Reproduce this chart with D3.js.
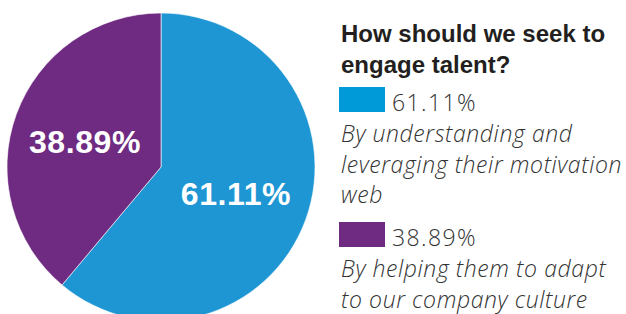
<!DOCTYPE html>
<html>
<head>
<meta charset="utf-8">
<script src="https://cdn.jsdelivr.net/npm/d3@7"></script>
<style>
  body { margin: 0; background: white; }
</style>
</head>
<body>
<div id="container"></div>
<script>
var w = 626;
var h = 314;

// data
var labels = ["By understanding and leveraging their motivation web", "By helping them to adapt to our company culture"];
var values = [61.11, 38.89];
var legendLines = [["By understanding and", "leveraging their motivation", "web"], ["By helping them to adapt", "to our company culture"]];
var sliceColors = ["#1e96d4", "#6f2a82"];
var swatchColors = ["#009ad9", "#6f2a82"];
var title = ["How should we seek to", "engage talent?"];

var svg = d3.select("div#container").append("svg")
    .attr("width", w).attr("height", h)
    .style("background-color", "white");

var cx = 161, cy = 167, r = 154;

var pie = d3.pie().sort(null).value(function(d) { return d; });
var arc = d3.arc().innerRadius(0).outerRadius(r);

var g = svg.append("g").attr("transform", "translate(" + cx + "," + cy + ")");

var arcs = pie(values);

g.selectAll("path")
  .data(arcs)
  .enter().append("path")
    .attr("d", arc)
    .attr("fill", function(d, i) { return sliceColors[i]; })
    .attr("stroke", "white")
    .attr("stroke-width", 0.6);

var labelOffsets = [[75, 38], [-76, -14]];
g.selectAll("text.pct")
  .data(arcs)
  .enter().append("text")
    .attr("class", "pct")
    .attr("x", function(d, i) { return labelOffsets[i][0]; })
    .attr("y", function(d, i) { return labelOffsets[i][1]; })
    .attr("text-anchor", "middle")
    .attr("fill", "white")
    .attr("font-family", "'Liberation Sans', Arial, sans-serif")
    .attr("font-weight", "bold")
    .attr("font-size", 32)
    .attr("letter-spacing", 0.6)
    .text(function(d) { return d.value.toFixed(2) + "%"; });

// legend
var lg = svg.append("g").attr("transform", "translate(341,0)");

lg.selectAll("text.title")
  .data(title)
  .enter().append("text")
    .attr("class", "title")
    .attr("x", 0)
    .attr("y", function(d, i) { return 42 + i * 31; })
    .attr("fill", "#231f20")
    .attr("font-family", "'Liberation Sans', Arial, sans-serif")
    .attr("font-weight", "bold")
    .attr("font-size", 24)
    .text(function(d) { return d; });

var itemY = [111, 246];
var item = lg.selectAll("g.item")
  .data(values)
  .enter().append("g")
    .attr("class", "item")
    .attr("transform", function(d, i) { return "translate(0," + itemY[i] + ")"; });

item.append("rect")
    .attr("x", -2)
    .attr("y", -24)
    .attr("width", 46)
    .attr("height", 25)
    .attr("fill", function(d, i) { return swatchColors[i]; });

item.append("text")
    .attr("x", 51)
    .attr("y", 0)
    .attr("fill", "#333")
    .attr("font-family", "'Open Sans', Roboto, sans-serif")
    .attr("font-weight", 300)
    .attr("font-size", 23)
    .attr("letter-spacing", 1.4)
    .text(function(d) { return d.toFixed(2) + "%"; });

item.each(function(d, i) {
  d3.select(this).selectAll("text.desc")
    .data(legendLines[i])
    .enter().append("text")
      .attr("class", "desc")
      .attr("x", 0)
      .attr("y", function(t, j) { return 31 + j * 30.5; })
      .attr("fill", "#333")
      .attr("font-family", "'Open Sans', Roboto, sans-serif")
      .attr("font-weight", 300)
      .attr("font-style", "italic")
      .attr("font-size", 23)
      .attr("letter-spacing", 0.6)
      .text(function(t) { return t; });
});
</script>
</body>
</html>
